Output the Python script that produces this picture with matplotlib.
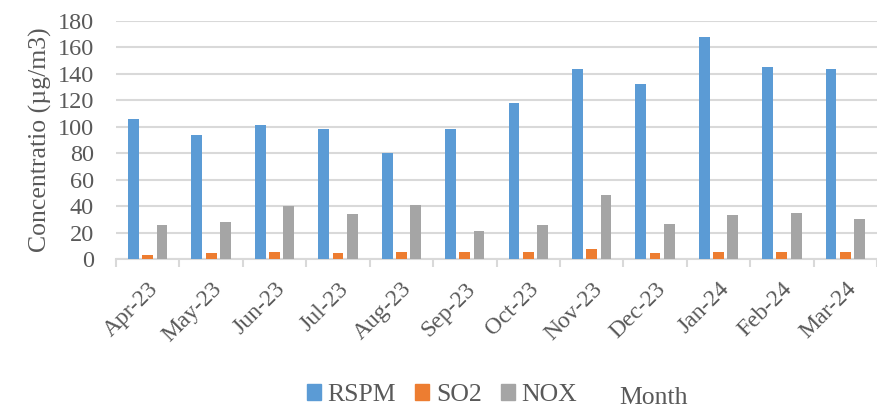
import numpy as np
import matplotlib.pyplot as plt
from matplotlib.patches import Patch

months = ['Apr-23', 'May-23', 'Jun-23', 'Jul-23', 'Aug-23', 'Sep-23',
          'Oct-23', 'Nov-23', 'Dec-23', 'Jan-24', 'Feb-24', 'Mar-24']
rspm = [106, 94, 101, 98, 80, 98, 118, 144, 132, 168, 145, 144]
so2 = [3.3, 4.3, 5.0, 4.8, 5.0, 5.0, 5.3, 7.6, 4.8, 5.5, 5.5, 5.3]
nox = [26, 27.7, 40, 34.3, 40.8, 21.2, 25.7, 48.6, 26.5, 33, 34.8, 30]

plt.rcParams['font.family'] = ['Liberation Serif', 'DejaVu Serif']
text_col = '#595959'
grid_col = '#d9d9d9'

fig = plt.figure(figsize=(8.77, 4.09), dpi=100)
ax = fig.add_axes([0.1323, 0.3667, 0.8677, 0.582])

x = np.arange(len(months))
w = 0.17
step = 0.225
ax.bar(x - step, rspm, w, color='#5B9BD5', zorder=3)
ax.bar(x, so2, w, color='#ED7D31', zorder=3)
ax.bar(x + step, nox, w, color='#A5A5A5', zorder=3)

ax.set_xlim(-0.5, len(months) - 0.5)
ax.set_ylim(0, 180)
ax.set_yticks(np.arange(0, 181, 20))
ax.yaxis.grid(True, color=grid_col, linewidth=1.5, zorder=0)

for s in ['top', 'right', 'left']:
    ax.spines[s].set_visible(False)
ax.spines['bottom'].set_color(grid_col)
ax.spines['bottom'].set_linewidth(1.5)

ax.tick_params(axis='y', length=0, pad=16, labelsize=17.5, labelcolor=text_col)
ax.set_xticks(x)
ax.set_xticklabels(months, rotation=45, ha='right', va='top',
                   rotation_mode='anchor')
ax.tick_params(axis='x', which='major', length=0, pad=14, labelsize=17,
               labelcolor=text_col)
ax.set_xticks(np.arange(-0.5, len(months)), minor=True)
ax.tick_params(axis='x', which='minor', length=6, width=1.5, color=grid_col)

ax.set_ylabel('Concentratio (µg/m3)', fontsize=18.5, color=text_col, labelpad=4)

handles = [Patch(color='#5B9BD5', label='RSPM'),
           Patch(color='#ED7D31', label='SO2'),
           Patch(color='#A5A5A5', label='NOX')]
fig.legend(handles=handles, loc='center', bbox_to_anchor=(0.504, 0.034),
           ncol=3, frameon=False, fontsize=18.5, handlelength=0.55,
           handleheight=0.55, handletextpad=0.25, columnspacing=0.75,
           labelcolor=text_col, borderpad=0)
fig.text(0.745, 0.027, 'Month', ha='center', va='center', fontsize=18.5,
         color=text_col)

fig.savefig('out.png', dpi=100)
